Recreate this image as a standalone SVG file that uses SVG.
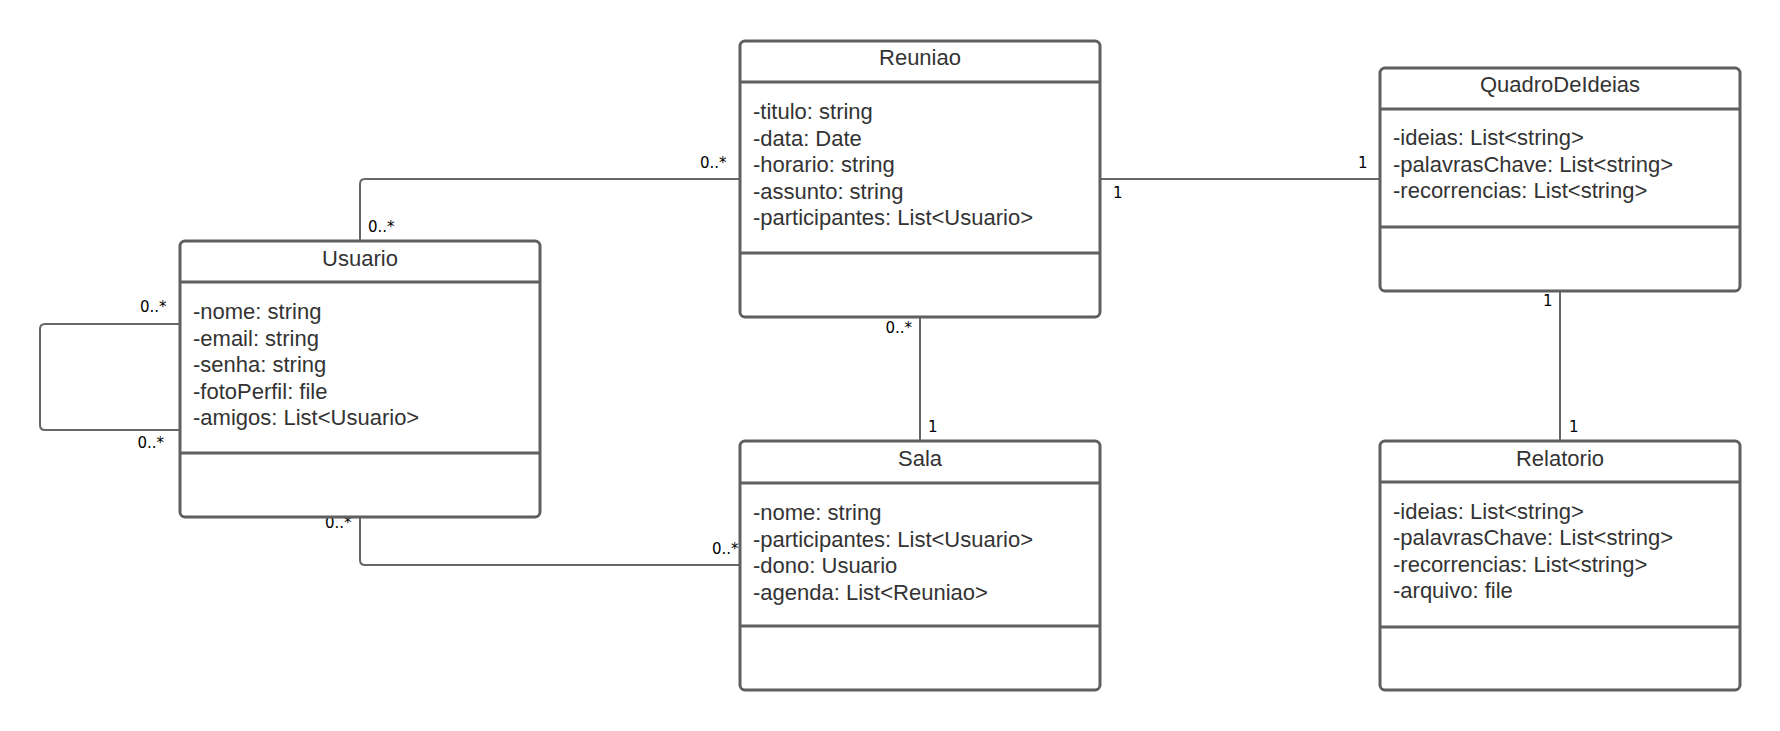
<svg xmlns="http://www.w3.org/2000/svg" width="1780" height="731" viewBox="0 0 1780 731">
  <style>
    .box { fill: #ffffff; stroke: #5f5f5f; stroke-width: 3; }
    .sep { stroke: #5f5f5f; stroke-width: 3; }
    .title { font-family: "Liberation Sans", Arial, sans-serif; font-size: 22px; fill: #333333; text-anchor: middle; }
    .attr { font-family: "Liberation Sans", Arial, sans-serif; font-size: 22px; fill: #333333; }
    .edge { fill: none; stroke: #666666; stroke-width: 2; }
    .mult { font-family: "DejaVu Sans", sans-serif; font-size: 15px; fill: #000000; }
  </style>
  <rect width="1780" height="731" fill="#ffffff"/>

  <!-- associations -->
  <g id="connectors">
    <path class="edge" d="M360,241 V184 Q360,179 365,179 H740"/>
    <path class="edge" d="M180,324 H45 Q40,324 40,329 V425 Q40,430 45,430 H180"/>
    <path class="edge" d="M360,517 V560 Q360,565 365,565 H740"/>
    <path class="edge" d="M920,317 V441"/>
    <path class="edge" d="M1100,179 H1380"/>
    <path class="edge" d="M1560,291 V441"/>
    <text class="mult" x="700" y="168">0..*</text>
    <text class="mult" x="368" y="232">0..*</text>
    <text class="mult" x="140" y="312">0..*</text>
    <text class="mult" x="137.5" y="448">0..*</text>
    <text class="mult" x="325" y="528">0..*</text>
    <text class="mult" x="712" y="554">0..*</text>
    <text class="mult" x="885.5" y="333">0..*</text>
    <text class="mult" x="928" y="432">1</text>
    <text class="mult" x="1113" y="198">1</text>
    <text class="mult" x="1358" y="168">1</text>
    <text class="mult" x="1543" y="306">1</text>
    <text class="mult" x="1569" y="432">1</text>
  </g>

  <g id="reuniao">
    <rect class="box" x="740" y="41" width="360" height="276" rx="5"/>
    <line class="sep" x1="740" y1="82" x2="1100" y2="82"/>
    <line class="sep" x1="740" y1="253" x2="1100" y2="253"/>
    <text class="title" x="920" y="65">Reuniao</text>
    <text class="attr" x="753" y="119">-titulo: string</text>
    <text class="attr" x="753" y="145.5">-data: Date</text>
    <text class="attr" x="753" y="172">-horario: string</text>
    <text class="attr" x="753" y="198.5">-assunto: string</text>
    <text class="attr" x="753" y="225">-participantes: List&lt;Usuario&gt;</text>
  </g>

  <g id="usuario">
    <rect class="box" x="180" y="241" width="360" height="276" rx="5"/>
    <line class="sep" x1="180" y1="282" x2="540" y2="282"/>
    <line class="sep" x1="180" y1="453" x2="540" y2="453"/>
    <text class="title" x="360" y="266">Usuario</text>
    <text class="attr" x="193" y="319">-nome: string</text>
    <text class="attr" x="193" y="345.5">-email: string</text>
    <text class="attr" x="193" y="372">-senha: string</text>
    <text class="attr" x="193" y="398.5">-fotoPerfil: file</text>
    <text class="attr" x="193" y="425">-amigos: List&lt;Usuario&gt;</text>
  </g>

  <g id="quadro-de-ideias">
    <rect class="box" x="1380" y="68" width="360" height="223" rx="5"/>
    <line class="sep" x1="1380" y1="109" x2="1740" y2="109"/>
    <line class="sep" x1="1380" y1="227" x2="1740" y2="227"/>
    <text class="title" x="1560" y="92">QuadroDeIdeias</text>
    <text class="attr" x="1393" y="145">-ideias: List&lt;string&gt;</text>
    <text class="attr" x="1393" y="171.5">-palavrasChave: List&lt;string&gt;</text>
    <text class="attr" x="1393" y="198">-recorrencias: List&lt;string&gt;</text>
  </g>

  <g id="sala">
    <rect class="box" x="740" y="441" width="360" height="249" rx="5"/>
    <line class="sep" x1="740" y1="483" x2="1100" y2="483"/>
    <line class="sep" x1="740" y1="626" x2="1100" y2="626"/>
    <text class="title" x="920" y="466">Sala</text>
    <text class="attr" x="753" y="520">-nome: string</text>
    <text class="attr" x="753" y="546.5">-participantes: List&lt;Usuario&gt;</text>
    <text class="attr" x="753" y="573">-dono: Usuario</text>
    <text class="attr" x="753" y="599.5">-agenda: List&lt;Reuniao&gt;</text>
  </g>

  <g id="relatorio">
    <rect class="box" x="1380" y="441" width="360" height="249" rx="5"/>
    <line class="sep" x1="1380" y1="482" x2="1740" y2="482"/>
    <line class="sep" x1="1380" y1="627" x2="1740" y2="627"/>
    <text class="title" x="1560" y="466">Relatorio</text>
    <text class="attr" x="1393" y="518.5">-ideias: List&lt;string&gt;</text>
    <text class="attr" x="1393" y="545">-palavrasChave: List&lt;string&gt;</text>
    <text class="attr" x="1393" y="571.5">-recorrencias: List&lt;string&gt;</text>
    <text class="attr" x="1393" y="598">-arquivo: file</text>
  </g>
</svg>
